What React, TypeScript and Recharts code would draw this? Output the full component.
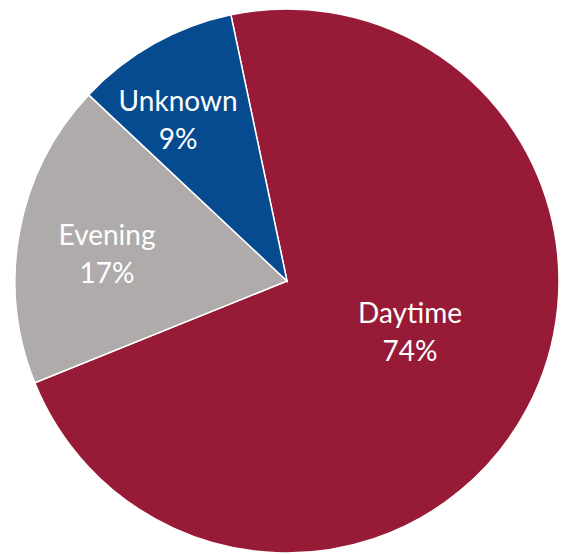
import { PieChart, Pie, Cell } from 'recharts';

// slices in clockwise order, starting just left of 12 o'clock
const categories = ['Daytime', 'Evening', 'Unknown'];
const shares = [72.2, 18.1, 9.7];
const percentLabels = ['74%', '17%', '9%'];
const colors = ['#971B36', '#AEABAA', '#064B8F'];

const data = categories.map((name, i) => ({
  name,
  value: shares[i],
  label: percentLabels[i],
  color: colors[i],
}));

// per-slice label placement: radius as fraction of outer radius, angle nudge in degrees
const labelPlacement = [
  { r: 0.49, nudge: 5.5 },
  { r: 0.669, nudge: 2 },
  { r: 0.715, nudge: 4.7 },
];

const RAD = Math.PI / 180;
const FONT = 'Lato, "Noto Sans", sans-serif';

const renderLabel = (props: any) => {
  const { cx, cy, midAngle, outerRadius, index } = props;
  const p = labelPlacement[index];
  const a = (midAngle + p.nudge) * RAD;
  const x = cx + outerRadius * p.r * Math.cos(a);
  const y = cy - outerRadius * p.r * Math.sin(a);
  const d = data[index];
  return (
    <text
      key={d.name}
      x={x}
      y={y}
      fill="#FFFFFF"
      textAnchor="middle"
      fontFamily={FONT}
      fontSize={28}
    >
      <tspan x={x} y={y - 9}>{d.name}</tspan>
      <tspan x={x} y={y + 29}>{d.label}</tspan>
    </text>
  );
};

export default function App() {
  return (
    <div style={{ position: 'absolute', left: 0, top: 0, width: 563, height: 554, background: '#fff' }}>
      <PieChart width={563} height={554} margin={{ top: 0, right: 0, bottom: 0, left: 0 }}>
        <Pie
          data={data}
          dataKey="value"
          cx={287}
          cy={281}
          innerRadius={0}
          outerRadius={272}
          startAngle={101.9}
          endAngle={-258.1}
          stroke="#FFFFFF"
          strokeWidth={1.5}
          label={renderLabel}
          labelLine={false}
          isAnimationActive={false}
        >
          {data.map((entry) => (
            <Cell key={entry.name} fill={entry.color} />
          ))}
        </Pie>
      </PieChart>
    </div>
  );
}
